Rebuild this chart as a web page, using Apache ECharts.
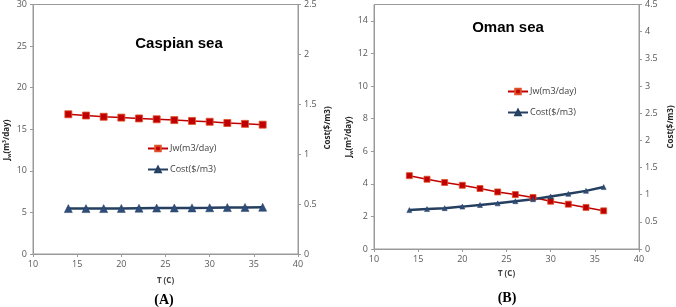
<!DOCTYPE html>
<html>
<head>
<meta charset="utf-8">
<script src="https://cdn.jsdelivr.net/npm/echarts@6/dist/echarts.min.js"></script>
<style>html,body{margin:0;padding:0;background:#fff}#c{width:676px;height:307px}</style>
</head>
<body>
<div id="c"></div>
<script>
const temps = [14, 16, 18, 20, 22, 24, 26, 28, 30, 32, 34, 36];
const caspianJw = [16.8, 16.65, 16.5, 16.4, 16.3, 16.2, 16.1, 16.0, 15.9, 15.75, 15.65, 15.55];
const caspianCost = [0.455, 0.455, 0.455, 0.457, 0.459, 0.46, 0.461, 0.462, 0.463, 0.465, 0.467, 0.468];
const omanJw = [4.5, 4.28, 4.08, 3.91, 3.71, 3.5, 3.34, 3.16, 2.93, 2.75, 2.55, 2.34];
const omanCost = [0.716, 0.734, 0.752, 0.78, 0.81, 0.84, 0.88, 0.917, 0.967, 1.015, 1.07, 1.14];
const seriesNames = ['Jw(m3/day)', 'Cost($/m3)'];
const panelTitles = ['Caspian sea', 'Oman sea'];
const panelTags = ['(A)', '(B)'];

const FONT = 'Open Sans';
const AX = '#9a9a9a';
const LBL = '#595959';
const RED = '#C00000';
const BLUE = '#243F60';

function pairs(xs, ys) { return xs.map((x, i) => [x, ys[i]]); }

function xAx(gi) {
  return {
    type: 'value', gridIndex: gi, min: 10, max: 40, interval: 5,
    name: 'T (C)', nameLocation: 'middle', nameGap: gi === 0 ? 23 : 21,
    nameTextStyle: { fontFamily: FONT, fontSize: 8, fontWeight: 'bold', color: '#404040' },
    axisLine: { show: true, lineStyle: { color: AX, width: 1 } },
    axisTick: { show: true, length: 3, lineStyle: { color: AX } },
    axisLabel: { fontFamily: FONT, fontSize: 9, color: LBL, margin: 6 },
    splitLine: { show: false }
  };
}
function yAx(gi, pos, max, interval, hideMax) {
  return {
    type: 'value', gridIndex: gi, position: pos, min: 0, max: max, interval: interval,
    axisLine: { show: true, onZero: false, lineStyle: { color: AX, width: 1 } },
    axisTick: { show: true, length: 3, lineStyle: { color: AX } },
    axisLabel: { fontFamily: FONT, fontSize: 9, color: LBL, margin: 6, showMaxLabel: !hideMax },
    splitLine: { show: false }
  };
}

const chart = echarts.init(document.getElementById('c'), null, { renderer: 'canvas' });

function jwSeries(xi, yi, data, sz) {
  return {
    name: seriesNames[0], type: 'line', xAxisIndex: xi, yAxisIndex: yi,
    data: data, symbol: 'rect', symbolSize: sz,
    lineStyle: { color: RED, width: 1.5 },
    itemStyle: { color: RED, borderColor: '#E0502A', borderWidth: 0.8 },
    animation: false
  };
}
function costSeries(xi, yi, data, sz, w) {
  return {
    name: seriesNames[1], type: 'line', xAxisIndex: xi, yAxisIndex: yi,
    data: data, symbol: 'triangle', symbolSize: sz,
    lineStyle: { color: BLUE, width: w },
    itemStyle: { color: '#2E4D7B', borderColor: BLUE, borderWidth: 0.5 },
    animation: false
  };
}

function rotText(x, y, text, rich) {
  return {
    type: 'text', x: x, y: y, rotation: Math.PI / 2,
    style: {
      text: text, fontFamily: FONT, fontSize: 8, fontWeight: 'bold', fill: '#262626',
      align: 'center', verticalAlign: 'middle', rich: rich
    }
  };
}
const jwRich = {
  b: { fontFamily: FONT, fontSize: 8, fontWeight: 'bold', fill: '#262626', lineHeight: 10 },
  s: { fontFamily: FONT, fontSize: 5, fontWeight: 'bold', fill: '#262626', lineHeight: 10, verticalAlign: 'bottom' },
  p: { fontFamily: FONT, fontSize: 5, fontWeight: 'bold', fill: '#262626', lineHeight: 10, verticalAlign: 'top' }
};
const jwText = '{b|J}{s|w}{b|(m}{p|3}{b|/day)}';

chart.setOption({
  animation: false,
  grid: [
    { left: 33, top: 3, width: 265, height: 251, show: true, borderColor: AX, borderWidth: 1, backgroundColor: 'transparent' },
    { left: 374, top: 4, width: 265, height: 245, show: true, borderColor: AX, borderWidth: 1, backgroundColor: 'transparent' }
  ],
  xAxis: [xAx(0), xAx(1)],
  yAxis: [
    yAx(0, 'left', 30, 5, false),
    yAx(0, 'right', 2.5, 0.5, false),
    yAx(1, 'left', 15, 2, true),
    yAx(1, 'right', 4.5, 0.5, false)
  ],
  legend: [
    { data: seriesNames, orient: 'vertical', left: 142, top: 139, itemWidth: 20, itemHeight: 7, itemGap: 12,
      textStyle: { fontFamily: FONT, fontSize: 9, color: '#404040', padding: [0, 0, 0, -3] } },
    { data: seriesNames, orient: 'vertical', left: 502, top: 82, itemWidth: 20, itemHeight: 7, itemGap: 12,
      textStyle: { fontFamily: FONT, fontSize: 9, color: '#404040', padding: [0, 0, 0, -3] } }
  ],
  series: [
    jwSeries(0, 0, pairs(temps, caspianJw), 7),
    costSeries(0, 1, pairs(temps, caspianCost), 8, 2.5),
    jwSeries(1, 2, pairs(temps, omanJw), 6),
    costSeries(1, 3, pairs(temps, omanCost), 5, 2.5)
  ],
  graphic: [
    { type: 'text', x: 179, y: 44, style: { text: panelTitles[0], fontFamily: 'Liberation Sans', fontSize: 15, fontWeight: 'bold', fill: '#000', align: 'center', verticalAlign: 'middle' } },
    { type: 'text', x: 508, y: 28, style: { text: panelTitles[1], fontFamily: 'Liberation Sans', fontSize: 15, fontWeight: 'bold', fill: '#000', align: 'center', verticalAlign: 'middle' } },
    rotText(7, 140, jwText, jwRich),
    rotText(349, 137, jwText, jwRich),
    rotText(328, 128, seriesNames[1]),
    rotText(671, 127, seriesNames[1]),
    { type: 'text', x: 164, y: 300, style: { text: panelTags[0], fontFamily: 'Liberation Serif', fontSize: 14, fontWeight: 'bold', fill: '#000', align: 'center', verticalAlign: 'middle' } },
    { type: 'text', x: 507, y: 298, style: { text: panelTags[1], fontFamily: 'Liberation Serif', fontSize: 14, fontWeight: 'bold', fill: '#000', align: 'center', verticalAlign: 'middle' } }
  ]
});
</script>
</body>
</html>
